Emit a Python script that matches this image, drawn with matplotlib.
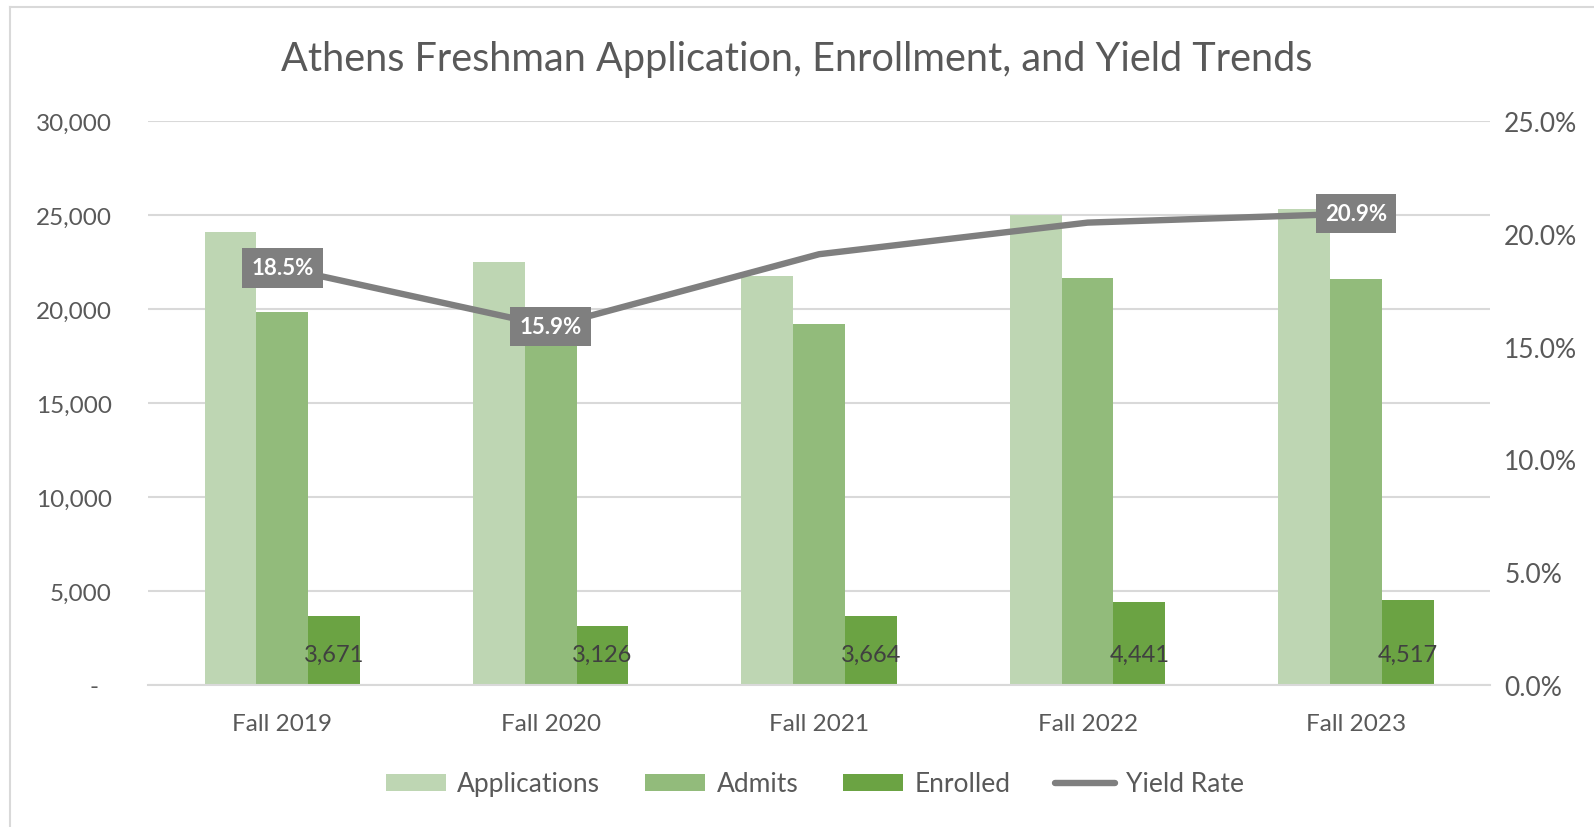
# Athens freshman trends chart

import matplotlib.pyplot as plt
from matplotlib.lines import Line2D
from matplotlib.ticker import FuncFormatter, MultipleLocator
from numpy import arange

plt.rcParams['font.family'] = ['Lato', 'DejaVu Sans']

# data
terms = ['Fall 2019', 'Fall 2020', 'Fall 2021', 'Fall 2022', 'Fall 2023']
applications = [24100, 22500, 21750, 25000, 25300]
admits = [19840, 19660, 19200, 21650, 21610]
enrolled = [3671, 3126, 3664, 4441, 4517]
yield_rate = [18.5, 15.9, 19.1, 20.5, 20.9]
yield_labelled = [True, True, False, False, True]

text_grey = '#595959'
grid_grey = '#D9D9D9'
colors = ['#BED6B3', '#92BB7B', '#6BA343']

fig = plt.figure(figsize=(15.94, 8.28), dpi=100)
ax = fig.add_axes([0.0929, 0.1715, 0.842, 0.681])
ax2 = ax.twinx()

x = arange(len(terms))
w = 0.193
ax.bar(x - w, applications, width=w, color=colors[0], label='Applications', zorder=2)
ax.bar(x, admits, width=w, color=colors[1], label='Admits', zorder=2)
ax.bar(x + w, enrolled, width=w, color=colors[2], label='Enrolled', zorder=2)

for xi, v in zip(x + w, enrolled):
    ax.annotate(f'{v:,}', (xi, 0), xytext=(0, 22), textcoords='offset points',
                ha='center', va='center', fontsize=17, color='#404040', zorder=3)

ax.set_xlim(-0.5, len(terms) - 0.5)
ax.set_ylim(0, 30000)
ax.yaxis.set_major_locator(MultipleLocator(5000))
ax.yaxis.set_major_formatter(FuncFormatter(lambda v, p: '-  ' if v == 0 else f'{v:,.0f}'))
ax.grid(axis='y', color=grid_grey, linewidth=1.5, zorder=0)
ax.set_axisbelow(True)
ax.set_xticks(x)
ax.set_xticklabels(terms)
ax.tick_params(axis='x', length=0, pad=20, labelsize=17.5, labelcolor=text_grey)
ax.tick_params(axis='y', length=0, pad=26, labelsize=17.5, labelcolor=text_grey)
for side in ['top', 'left', 'right']:
    ax.spines[side].set_visible(False)
ax.spines['bottom'].set_color(grid_grey)
ax.spines['bottom'].set_linewidth(1.5)

# yield line on the secondary axis
ax2.plot(x, yield_rate, color='#7F7F7F', linewidth=4.6, solid_capstyle='round', zorder=4)
for xi, v, show in zip(x, yield_rate, yield_labelled):
    if show:
        ax2.text(xi, v, f'{v:.1f}%', ha='center', va='center', fontsize=16,
                 fontweight='bold', color='white', zorder=5,
                 bbox=dict(boxstyle='square,pad=0.42', facecolor='#7F7F7F', edgecolor='none'))
ax2.set_ylim(0, 25)
ax2.yaxis.set_major_locator(MultipleLocator(5))
ax2.yaxis.set_major_formatter(FuncFormatter(lambda v, p: f'{v:.1f}%'))
ax2.tick_params(axis='y', length=0, pad=10, labelsize=19, labelcolor=text_grey)
for side in ['top', 'left', 'right', 'bottom']:
    ax2.spines[side].set_visible(False)

fig.suptitle('Athens Freshman Application, Enrollment, and Yield Trends',
             x=0.5, y=1 - 60 / 828, va='center', fontsize=28.5, color=text_grey)

handles, labels = ax.get_legend_handles_labels()
handles.append(Line2D([], [], color='#7F7F7F', linewidth=4.6, solid_capstyle='round'))
labels.append('Yield Rate')
fig.legend(handles, labels, loc='center', bbox_to_anchor=(0.5115, 1 - 785 / 828), ncol=4,
           frameon=False, fontsize=19, labelcolor=text_grey, handlelength=2.25,
           handleheight=0.6, handletextpad=0.45, columnspacing=1.7)

# chart border, top and left only as in the source crop
fig.add_artist(Line2D([10 / 1594, 10 / 1594], [0, 1 - 8 / 828], color=grid_grey,
                      linewidth=1.5, transform=fig.transFigure))
fig.add_artist(Line2D([10 / 1594, 1], [1 - 8 / 828, 1 - 8 / 828], color=grid_grey,
                      linewidth=1.5, transform=fig.transFigure))

fig.savefig('out.png', dpi=100)
